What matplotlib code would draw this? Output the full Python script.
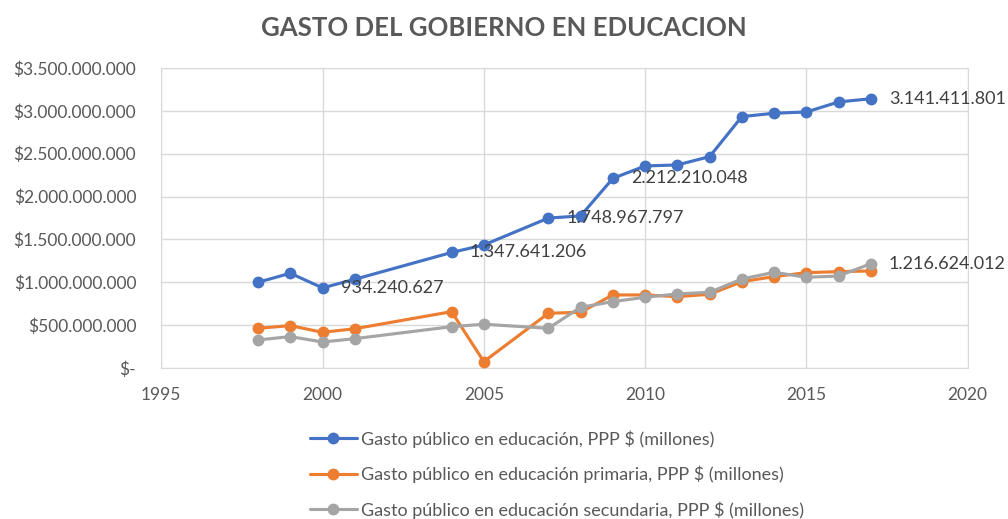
import matplotlib.pyplot as plt
from matplotlib.ticker import FuncFormatter, MultipleLocator

plt.rcParams['font.family'] = ['Lato', 'DejaVu Sans']

years = [1998, 1999, 2000, 2001, 2004, 2005, 2007, 2008, 2009,
         2010, 2011, 2012, 2013, 2014, 2015, 2016, 2017]

total = [1000000000, 1105000000, 934240627, 1035000000, 1347641206, 1435000000,
         1748967797, 1774000000, 2212210048, 2357000000, 2369000000, 2466000000,
         2933000000, 2972000000, 2987000000, 3104000000, 3141411801]

primaria = [463000000, 494000000, 416000000, 458000000, 657000000, 74000000,
            638000000, 650000000, 852000000, 852000000, 832000000, 860000000,
            1007000000, 1066000000, 1112000000, 1124000000, 1132000000]

secundaria = [327000000, 366000000, 303000000, 342000000, 482000000, 510000000,
              463000000, 708000000, 774000000, 825000000, 864000000, 883000000,
              1038000000, 1116000000, 1058000000, 1073000000, 1216624012]

labels = ['Gasto público en educación, PPP $ (millones)',
          'Gasto público en educación primaria, PPP $ (millones)',
          'Gasto público en educación secundaria, PPP $ (millones)']
colors = ['#4472c4', '#ed7d31', '#a5a5a5']

# which points carry a data label (series index, year)
tagged = [(0, 2000), (0, 2004), (0, 2007), (0, 2009), (0, 2017), (2, 2017)]

grey_txt = '#595959'

fig = plt.figure(figsize=(10.08, 5.19), dpi=100)
ax = fig.add_axes([0.16, 0.291, 0.8, 0.578])

series = [total, primaria, secundaria]
for vals, lab, c in zip(series, labels, colors):
    ax.plot(years, vals, color=c, lw=2.25, marker='o', ms=7.5, label=lab,
            solid_capstyle='round', zorder=3)

for si, yr in tagged:
    i = years.index(yr)
    v = series[si][i]
    txt = f'{v:,}'.replace(',', '.')
    ax.annotate(txt, (yr, v), xytext=(13, 0), textcoords='offset points',
                va='center', ha='left', fontsize=13, color='#404040', zorder=4)

ax.set_xlim(1995, 2020)
ax.set_ylim(0, 3500000000)
ax.xaxis.set_major_locator(MultipleLocator(5))
ax.yaxis.set_major_locator(MultipleLocator(500000000))


def money(v, pos):
    if v == 0:
        return '$-'
    return '$' + f'{int(v):,}'.replace(',', '.')


ax.yaxis.set_major_formatter(FuncFormatter(money))
ax.grid(True, color='#d9d9d9', lw=1)
ax.set_axisbelow(True)
for s in ax.spines.values():
    s.set_color('#d9d9d9')
ax.tick_params(length=0, labelsize=12.5, colors=grey_txt)
ax.tick_params(axis='y', pad=18)
ax.tick_params(axis='x', pad=14)

fig.suptitle('GASTO DEL GOBIERNO EN EDUCACION', x=0.5, y=0.97,
             fontsize=18.5, fontweight='bold', color=grey_txt)

leg = fig.legend(loc='upper left', bbox_to_anchor=(0.3, 0.185), frameon=False,
                 fontsize=13, labelspacing=1.0, handlelength=2.6,
                 handletextpad=0.25, borderaxespad=0)
for t in leg.get_texts():
    t.set_color(grey_txt)

fig.savefig('out.png', dpi=100)
